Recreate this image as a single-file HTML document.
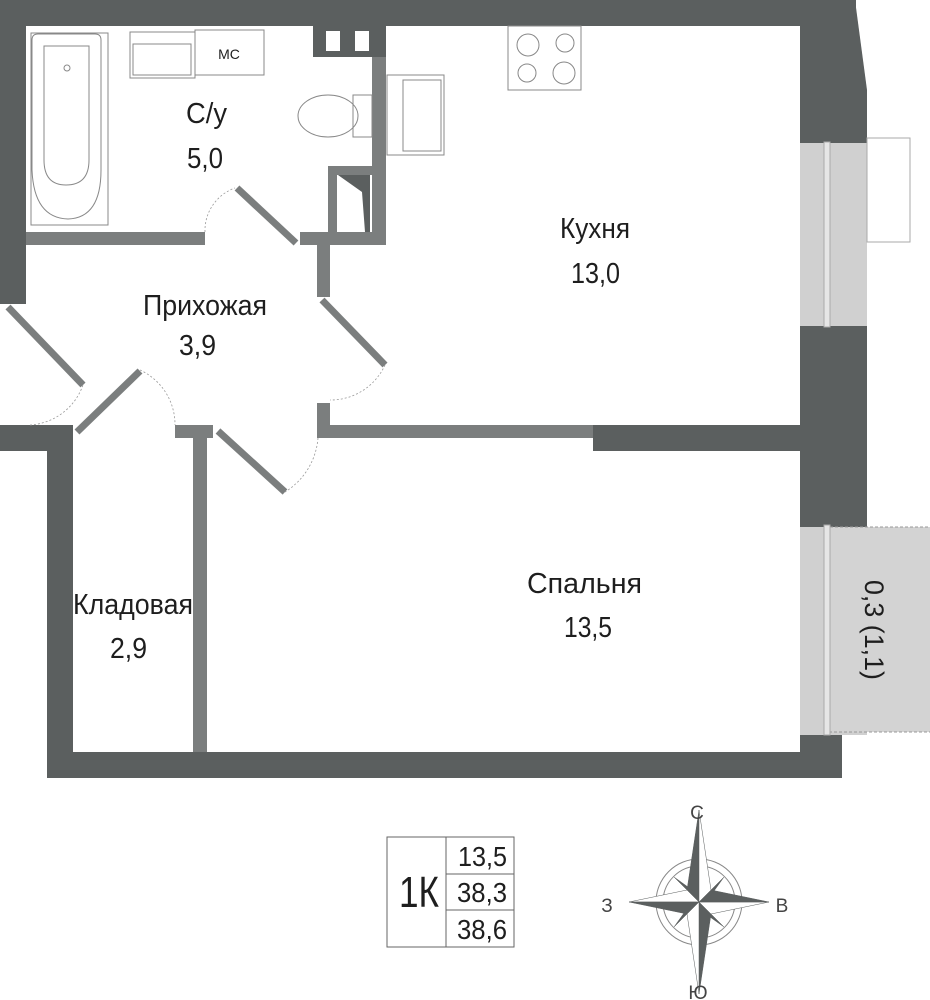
<!DOCTYPE html>
<html><head><meta charset="utf-8"><style>
html,body{margin:0;padding:0;background:#fff;}
svg{display:block}
text{font-family:"Liberation Sans",sans-serif;fill:#1e1e1e}
</style></head><body>
<svg width="930" height="1000" viewBox="0 0 930 1000" xmlns="http://www.w3.org/2000/svg">
<g fill="#5b5f5f">
<rect x="0" y="0" width="856" height="26"/>
<polygon points="800,0 855,0 867,90 867,143 800,143"/>
<rect x="0" y="0" width="26" height="304"/>
<rect x="800" y="326" width="67" height="201"/>
<rect x="800" y="732" width="42" height="46"/>
<rect x="47" y="752" width="795" height="26"/>
<rect x="593" y="425" width="207" height="26"/>
<rect x="0" y="425" width="73" height="26"/>
<rect x="47" y="425" width="26" height="353"/>
<rect x="313" y="26" width="73" height="31"/>
</g>
<rect x="326" y="31" width="14" height="20" fill="#fff"/>
<rect x="355" y="31" width="14" height="20" fill="#fff"/>
<g fill="#7b7e7e">
<rect x="26" y="232" width="179" height="13"/>
<rect x="372" y="57" width="14" height="188"/>
<rect x="300" y="232" width="86" height="13"/>
<rect x="328" y="166" width="58" height="79"/>
<rect x="317" y="245" width="13" height="52"/>
<rect x="317" y="403" width="13" height="35"/>
<rect x="317" y="425" width="276" height="13"/>
<rect x="175" y="425" width="38" height="13"/>
<rect x="193" y="425" width="14" height="327"/>
</g>
<rect x="337" y="175" width="35" height="57" fill="#fff"/>
<polygon points="338,175 370,175 370,232 365,232 362,192" fill="#5b5f5f"/>
<rect x="800" y="143" width="67" height="183" fill="#d0d0d0"/>
<rect x="824" y="142" width="6" height="185" fill="#e6e6e6" stroke="#aaa" stroke-width="1"/>
<rect x="867" y="138" width="43" height="104" fill="#fff" stroke="#aaa" stroke-width="1"/>
<rect x="800" y="527" width="67" height="208" fill="#d0d0d0"/>
<rect x="830" y="527" width="101" height="205" fill="#d3d3d3" stroke="#999" stroke-width="1" stroke-dasharray="3,2"/>
<rect x="824" y="525" width="6" height="210" fill="#e6e6e6" stroke="#aaa" stroke-width="1"/>
<g stroke="#7b7e7e" stroke-width="7" stroke-linecap="butt">
<line x1="237" y1="188" x2="296" y2="243"/>
<line x1="8" y1="307" x2="83" y2="385"/>
<line x1="140" y1="371" x2="77" y2="432"/>
<line x1="218" y1="431" x2="285" y2="492"/>
<line x1="322" y1="300" x2="385" y2="365"/>
</g>
<g fill="none" stroke="#999" stroke-width="0.8" stroke-dasharray="2,2">
<path d="M205,232 A45,45 0 0 1 235,188"/>
<path d="M30,425 A60,60 0 0 0 83,385"/>
<path d="M140,370 A60,60 0 0 1 175,425"/>
<path d="M318,438 A70,70 0 0 1 285,492"/>
<path d="M385,365 A60,60 0 0 1 330,400"/>
</g>
<g fill="none" stroke="#888" stroke-width="1">
<path d="M31,33 H108 V225 H31 Z"/>
<path d="M38,34 H95 Q101,34 101,40 V170 Q101,218 68,219 Q34,218 32,170 V40 Q32,34 38,34Z"/>
<path d="M44,46 H89 V160 Q89,185 66,185 Q44,185 44,160Z"/>
<circle cx="67" cy="68" r="3"/>
<rect x="130" y="32" width="65" height="46"/>
<rect x="133" y="44" width="58" height="31"/>
<rect x="195" y="30" width="69" height="45"/>
<ellipse cx="328" cy="116" rx="30" ry="21"/>
<rect x="353" y="95" width="19" height="42"/>
<rect x="387" y="75" width="57" height="80"/>
<rect x="403" y="80" width="38" height="71"/>
<rect x="508" y="26" width="73" height="64"/>
<circle cx="528" cy="45" r="11"/><circle cx="565" cy="43" r="9"/>
<circle cx="527" cy="73" r="9"/><circle cx="564" cy="73" r="11"/>
</g>
<text x="229" y="59" font-size="14" text-anchor="middle" fill="#555">МС</text>
<g font-size="29" lengthAdjust="spacingAndGlyphs">
<text x="186" y="123" textLength="41" lengthAdjust="spacingAndGlyphs">С/у</text>
<text x="187" y="168" textLength="36" lengthAdjust="spacingAndGlyphs">5,0</text>
<text x="143" y="315" textLength="124" lengthAdjust="spacingAndGlyphs">Прихожая</text>
<text x="179" y="355" textLength="37" lengthAdjust="spacingAndGlyphs">3,9</text>
<text x="560" y="238" textLength="70" lengthAdjust="spacingAndGlyphs">Кухня</text>
<text x="571" y="283" textLength="49" lengthAdjust="spacingAndGlyphs">13,0</text>
<text x="527" y="593" textLength="115" lengthAdjust="spacingAndGlyphs">Спальня</text>
<text x="564" y="637" textLength="48" lengthAdjust="spacingAndGlyphs">13,5</text>
<text x="73" y="614" textLength="120" lengthAdjust="spacingAndGlyphs">Кладовая</text>
<text x="110" y="658" textLength="37" lengthAdjust="spacingAndGlyphs">2,9</text>
</g>
<text font-size="27" transform="translate(865,580) rotate(90)" textLength="100" lengthAdjust="spacingAndGlyphs">0,3 (1,1)</text>
<g fill="none" stroke="#666" stroke-width="1">
<rect x="387" y="837" width="127" height="110"/>
<line x1="446" y1="837" x2="446" y2="947"/>
<line x1="446" y1="874" x2="514" y2="874"/>
<line x1="446" y1="910" x2="514" y2="910"/>
</g>
<text x="399" y="907" font-size="44" textLength="40" lengthAdjust="spacingAndGlyphs">1К</text>
<g font-size="28">
<text x="458" y="866" textLength="49" lengthAdjust="spacingAndGlyphs">13,5</text>
<text x="457" y="902" textLength="50" lengthAdjust="spacingAndGlyphs">38,3</text>
<text x="457" y="939" textLength="50" lengthAdjust="spacingAndGlyphs">38,6</text>
</g>
<g transform="translate(699,902)">
<circle r="43" fill="none" stroke="#888" stroke-width="1"/>
<circle r="36" fill="none" stroke="#888" stroke-width="1"/>
<g fill="#5b5f5f" stroke="#5b5f5f" stroke-width="0.5">
<polygon points="0,-92 -12,-12 0,0"/><polygon points="0,-92 12,-12 0,0" fill="#fff"/>
<polygon points="0,92 12,12 0,0"/><polygon points="0,92 -12,12 0,0" fill="#fff"/>
<polygon points="-70,0 -12,-12 0,0" fill="#fff"/><polygon points="-70,0 -12,12 0,0"/>
<polygon points="70,0 12,12 0,0" fill="#fff"/><polygon points="70,0 12,-12 0,0"/>
<polygon points="-25,-25 -4,-10 0,0"/><polygon points="25,-25 10,-4 0,0"/>
<polygon points="25,25 4,10 0,0"/><polygon points="-25,25 -10,4 0,0"/>
</g>
</g>
<g font-size="19" text-anchor="middle">
<text x="697" y="819" style="fill:#444">С</text>
<text x="607" y="912" style="fill:#444">З</text>
<text x="782" y="912" style="fill:#444">В</text>
<text x="698" y="999" style="fill:#444">Ю</text>
</g>
</svg>
</body></html>
